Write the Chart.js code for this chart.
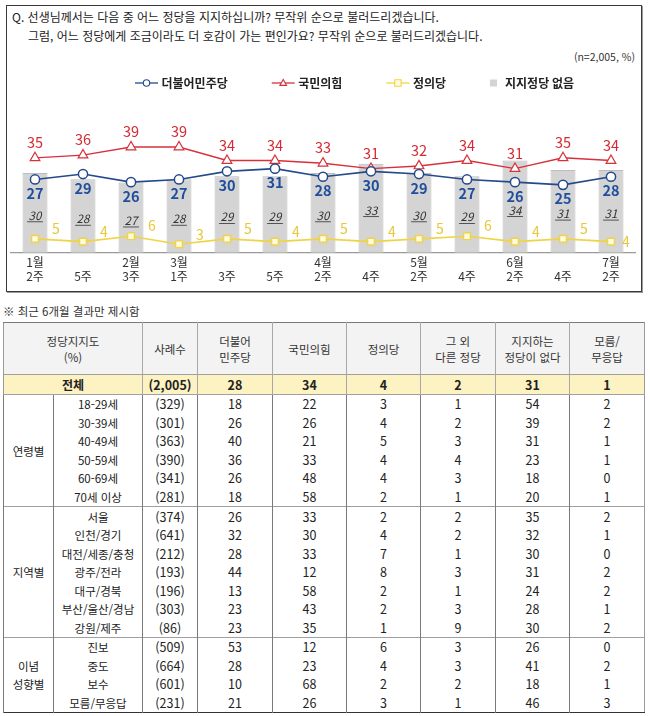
<!DOCTYPE html>
<html lang="ko"><head><meta charset="utf-8">
<script src="https://cdn.jsdelivr.net/npm/chart.js@4.4.1/dist/chart.umd.min.js"></script>
<style>
html,body{margin:0;padding:0;background:#fff;}
body{width:650px;height:716px;position:relative;overflow:hidden;font-family:"Noto Sans CJK KR",sans-serif;color:#222;}
#box{position:absolute;left:6px;top:5px;width:634px;height:285px;border:1px solid #3a3a3a;box-shadow:1px 1px 0 #9a9a9a;}
.t{position:absolute;font-size:12px;white-space:nowrap;line-height:14px;color:#222;}
#cv{position:absolute;left:0;top:65px;}
#note{position:absolute;left:3px;top:303px;font-size:11.5px;line-height:16px;color:#333;}
table{position:absolute;left:3px;top:322px;width:641px;border-collapse:collapse;table-layout:fixed;font-family:"Liberation Sans Narrow","Noto Sans CJK KR",sans-serif;font-size:12.5px;color:#222;border-top:1px solid #7a7a7a;border-left:1px solid #9a9a9a;border-right:1px solid #9a9a9a;border-bottom:1.5px solid #333;}
td,th{padding:0;text-align:center;white-space:nowrap;overflow:hidden;}
.ko{font-family:"Noto Sans CJK KR",sans-serif;font-size:11.5px;}
th{height:51px;background:#f3f3f3;font-weight:normal;border-left:1px solid #a8a8a8;line-height:16px;color:#333;font-family:"Noto Sans CJK KR",sans-serif;font-size:11.5px;}
tr.tot td{height:18px;background:#fdf2c2;font-weight:bold;border-top:1px solid #a0a0a0;border-bottom:1px solid #a0a0a0;border-left:1px solid #a8a8a8;}
tr.d td{height:18.55px;line-height:18px;border-left:1px solid #7a7a7a;}
tr.gs td{border-top:1.5px solid #a0a0a0;}
td.grp{border-left:none;line-height:17px;}
td.sub{border-left:1px solid #8a8a8a;}
</style></head>
<body>
<div id="box"></div>
<div class="t" style="left:12px;top:10px;">Q. 선생님께서는 다음 중 어느 정당을 지지하십니까? 무작위 순으로 불러드리겠습니다.</div>
<div class="t" style="left:28px;top:29px;">그럼, 어느 정당에게 조금이라도 더 호감이 가는 편인가요? 무작위 순으로 불러드리겠습니다.</div>
<div class="t" style="right:15px;top:50px;font-size:10.5px;color:#333;">(n=2,005, %)</div>
<canvas id="cv" width="650" height="227"></canvas>
<div id="note">※ 최근 6개월 결과만 제시함</div>
<table id="tbl"></table>
<script>
// ---- chart data ----
const months = ['1월','','2월','3월','','','4월','','5월','','6월','','7월'];
const weeks  = ['2주','5주','3주','1주','3주','5주','2주','4주','2주','4주','2주','4주','2주'];
const seriesNames = ['더불어민주당','국민의힘','정의당','지지정당 없음'];
const democratic = [27,29,26,27,30,31,28,30,29,27,26,25,28];
const peoplePower = [35,36,39,39,34,34,33,31,32,34,31,35,34];
const justice = [5,4,6,3,5,4,5,4,5,6,4,5,4];
const noParty = [30,28,27,28,29,29,30,33,30,29,34,31,31];

// ---- table data ----
const colHeads = ['사례수','더불어<br>민주당','국민의힘','정의당','그 외<br>다른 정당','지지하는<br>정당이 없다','모름/<br>무응답'];
const totalLabel = '전체';
const totalN = '(2,005)';
const totalVals = [28,34,4,2,31,1];
const groupNames = ['연령별','지역별','이념<br>성향별'];
const ageRows = ['18-29세','30-39세','40-49세','50-59세','60-69세','70세 이상'];
const ageN = ['(329)','(301)','(363)','(390)','(341)','(281)'];
const ageVals = [[18,22,3,1,54,2],[26,26,4,2,39,2],[40,21,5,3,31,1],[36,33,4,4,23,1],[26,48,4,3,18,0],[18,58,2,1,20,1]];
const regionRows = ['서울','인천/경기','대전/세종/충청','광주/전라','대구/경북','부산/울산/경남','강원/제주'];
const regionN = ['(374)','(641)','(212)','(193)','(196)','(303)','(86)'];
const regionVals = [[26,33,2,2,35,2],[32,30,4,2,32,1],[28,33,7,1,30,0],[44,12,8,3,31,2],[13,58,2,1,24,2],[23,43,2,3,28,1],[23,35,1,9,30,2]];
const ideoRows = ['진보','중도','보수','모름/무응답'];
const ideoN = ['(509)','(664)','(601)','(231)'];
const ideoVals = [[53,12,6,3,26,0],[28,23,4,3,41,2],[10,68,2,2,18,1],[21,26,3,1,46,3]];

// ---- build table ----
(function(){
  const widths=[50,89,55,75,74,74,75,74,75];
  let h='<colgroup>'+widths.map(w=>'<col style="width:'+w+'px">').join('')+'</colgroup>';
  h+='<tr><th colspan="2" style="border-left:none">정당지지도<br>(%)</th>'+colHeads.map(c=>'<th>'+c+'</th>').join('')+'</tr>';
  h+='<tr class="tot"><td colspan="2" class="ko" style="border-left:none;font-weight:bold;font-size:12px">'+totalLabel+'</td><td>'+totalN+'</td>'+totalVals.map(v=>'<td>'+v+'</td>').join('')+'</tr>';
  const groups=[[ageRows,ageN,ageVals],[regionRows,regionN,regionVals],[ideoRows,ideoN,ideoVals]];
  groups.forEach((g,gi)=>{
    const [rows,ns,vals]=g;
    rows.forEach((r,ri)=>{
      h+='<tr class="d'+(ri===0&&gi>0?' gs':'')+'">';
      if(ri===0) h+='<td class="grp ko" rowspan="'+rows.length+'">'+groupNames[gi]+'</td>';
      h+='<td class="sub ko">'+r+'</td><td>'+ns[ri]+'</td>'+vals[ri].map(v=>'<td>'+v+'</td>').join('')+'</tr>';
    });
  });
  document.getElementById('tbl').innerHTML=h;
})();

// ---- chart ----
const labels = months.map((m,i)=>[m,weeks[i]]);
const NUM = '"Liberation Sans Narrow","Noto Sans CJK KR",sans-serif';

function drawMarker(ctx, style, x, y, r){
  ctx.beginPath();
  if(style==='circle'){ ctx.arc(x,y,r,0,Math.PI*2); }
  else if(style==='triangle'){ ctx.moveTo(x,y-r*1.1); ctx.lineTo(x+r*1.05,y+r*0.75); ctx.lineTo(x-r*1.05,y+r*0.75); ctx.closePath(); }
  else { ctx.rect(x-r,y-r,2*r,2*r); }
  ctx.fill(); ctx.stroke();
}

const valueLabels = {
  id:'valueLabels',
  afterDatasetsDraw(chart){
    const ctx=chart.ctx; ctx.save();
    const blue=chart.getDatasetMeta(0);
    chart.data.datasets.forEach((d,i)=>{
      const meta=chart.getDatasetMeta(i); const L=d.lbl;
      ctx.fillStyle=L.color; ctx.font=L.font; ctx.textAlign='center'; ctx.textBaseline='middle';
      meta.data.forEach((el,j)=>{
        const v=d.data[j]; let x=el.x, y=el.y;
        if(L.kind==='bar'){
          y=Math.max(el.y+0.45*(el.base-el.y), blue.data[j].y+28);
          ctx.fillText(String(v),x,y);
          const w=ctx.measureText(String(v)).width+3;
          ctx.fillRect(x-w/2,y+6,w,0.8);
        } else if(L.kind==='right'){
          const last=j===meta.data.length-1;
          ctx.fillText(String(v), x+(last?15:21), y+(last?0:-10));
        } else {
          ctx.fillText(String(v), x, y+L.dy);
        }
      });
    });
    ctx.restore();
  }
};

const lineLegend = {
  id:'lineLegend',
  afterDraw(chart){
    const ctx=chart.ctx; ctx.save();
    const y=18; let x=135;
    ctx.font='bold 12px "Noto Sans CJK KR", sans-serif'; ctx.textBaseline='middle'; ctx.textAlign='left';
    chart.data.datasets.forEach(d=>{
      if(d.type==='line'){
        ctx.strokeStyle=d.borderColor; ctx.lineWidth=1.3;
        ctx.beginPath(); ctx.moveTo(x,y); ctx.lineTo(x+23,y); ctx.stroke();
        ctx.fillStyle=d.pointBackgroundColor; ctx.lineWidth=1.1;
        drawMarker(ctx,d.pointStyle,x+11.5,y,3.2);
        x+=26.5;
      } else {
        ctx.fillStyle=d.backgroundColor; ctx.fillRect(x,y-3.5,7,7);
        x+=15;
      }
      ctx.fillStyle='#222'; ctx.fillText(d.label,x,y);
      x+=ctx.measureText(d.label).width+44;
    });
    ctx.restore();
  }
};

new Chart(document.getElementById('cv'),{
  data:{
    labels:labels,
    datasets:[
      {type:'line',label:seriesNames[0],data:democratic,yAxisID:'yl',order:1,borderColor:'#244a8c',borderWidth:1.6,
       pointStyle:'circle',pointRadius:4.6,pointBorderWidth:1.5,pointBackgroundColor:'#ffffff',pointBorderColor:'#244a8c',
       lbl:{kind:'below',dy:14,color:'#1f4e9c',font:'bold 14.5px '+NUM}},
      {type:'line',label:seriesNames[1],data:peoplePower,yAxisID:'yl',order:2,borderColor:'#d7313b',borderWidth:1.4,
       pointStyle:'triangle',pointRadius:5.6,pointBorderWidth:1.2,pointBackgroundColor:'#ffffff',pointBorderColor:'#d7313b',
       lbl:{kind:'above',dy:-15.5,color:'#d42a33',font:'14.5px '+NUM}},
      {type:'line',label:seriesNames[2],data:justice,yAxisID:'yl',order:3,borderColor:'#f0d443',borderWidth:1.6,
       pointStyle:'rect',pointRadius:4.8,pointBorderWidth:1.4,pointBackgroundColor:'#fffbe2',pointBorderColor:'#f0d443',
       lbl:{kind:'right',color:'#e9c63a',font:'14px '+NUM}},
      {type:'bar',label:seriesNames[3],data:noParty,yAxisID:'yb',order:10,backgroundColor:'#d4d4d4',borderColor:'#bcbcbc',borderWidth:1,
       categoryPercentage:1,barPercentage:0.52,
       lbl:{kind:'bar',color:'#333333',font:'italic 11.5px '+NUM}}
    ]
  },
  options:{
    responsive:false,animation:false,
    layout:{padding:{left:11,right:15,top:35,bottom:6}},
    plugins:{legend:{display:false},tooltip:{enabled:false}},
    elements:{line:{tension:0}},
    scales:{
      x:{offset:true,grid:{display:false,drawTicks:false},border:{display:true,color:'#9a9a9a',width:1.2},
         ticks:{color:'#333',padding:3,font:{family:'"Noto Sans CJK KR", sans-serif',size:12,lineHeight:1.15},maxRotation:0,autoSkip:false}},
      yl:{display:false,min:0,max:56.4},
      yb:{display:false,min:4.7,max:53.3}
    }
  },
  plugins:[valueLabels,lineLegend]
});
</script>
</body></html>
